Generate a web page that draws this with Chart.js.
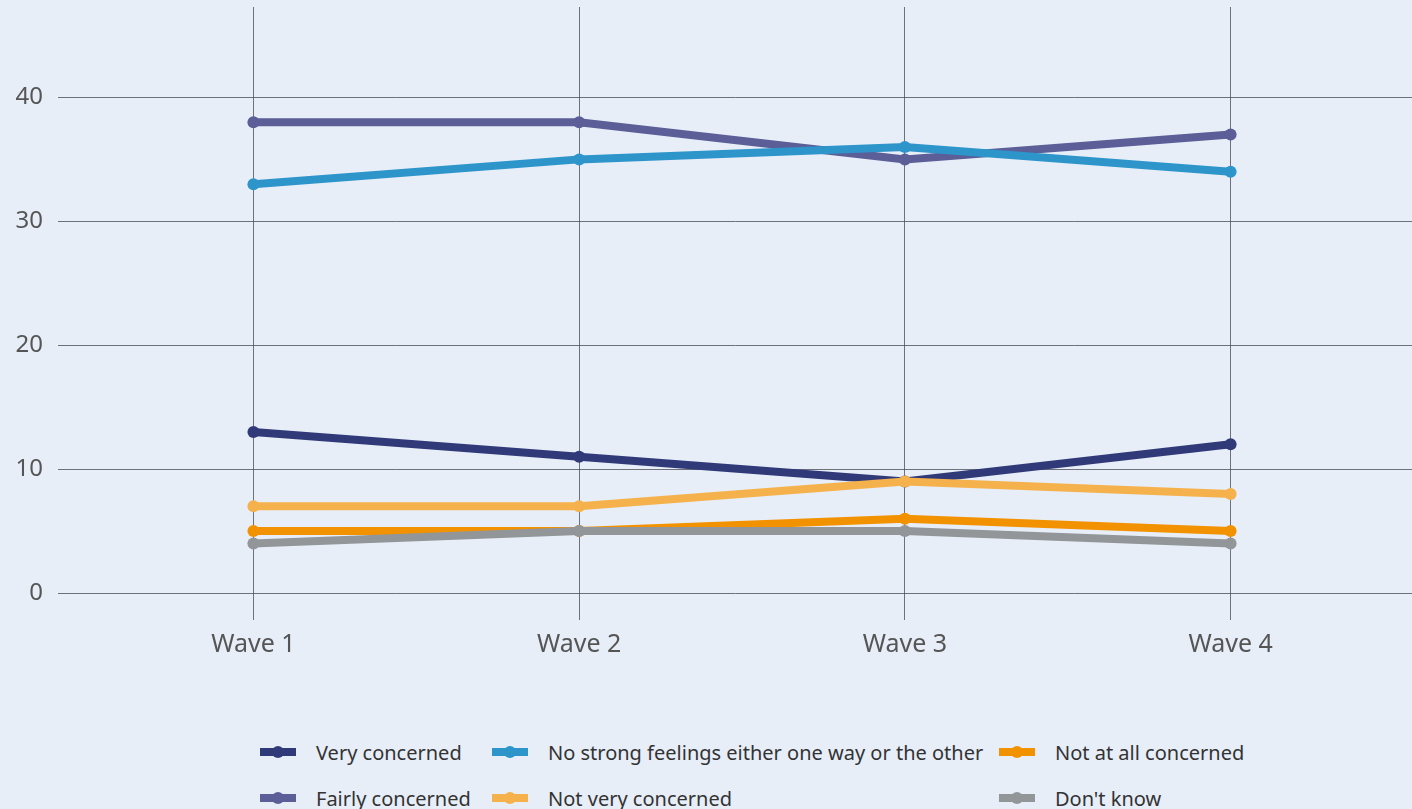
<!DOCTYPE html>
<html>
<head>
<meta charset="utf-8">
<script src="https://cdn.jsdelivr.net/npm/chart.js@4/dist/chart.umd.min.js"></script>
<style>
  html, body { margin: 0; padding: 0; background: #e7eef8; overflow: hidden; }
  body { width: 1412px; height: 809px; position: relative; font-family: "Noto Sans", sans-serif; }
  #chart { position: absolute; left: 0; top: 0; }
  #legend {
    position: absolute; left: 260px; top: 729px;
    display: grid; grid-template-columns: 232px 507px 300px; grid-auto-rows: 46px;
    color: #333; font-size: 20px;
  }
  .item { display: flex; align-items: center; height: 46px; }
  .swatch { position: relative; width: 36px; height: 8px; margin-right: 20px; }
  .swatch span { position: absolute; left: 12px; top: -2px; width: 12px; height: 12px; border-radius: 50%; }
</style>
</head>
<body>
<!-- a few px wider than the page: the line overflow padding on the right falls outside the view -->
<canvas id="chart" width="1419" height="700"></canvas>
<div id="legend"></div>
<script>
// Data
const waves = ["Wave 1", "Wave 2", "Wave 3", "Wave 4"];
const veryConcerned = [13, 11, 9, 12];
const fairlyConcerned = [38, 38, 35, 37];
const noStrongFeelings = [33, 35, 36, 34];
const notVeryConcerned = [7, 7, 9, 8];
const notAtAllConcerned = [5, 5, 6, 5];
const dontKnow = [4, 5, 5, 4];
const yTicks = [0, 10, 20, 30, 40];

const series = [
  { label: "Very concerned", data: veryConcerned, color: "#313a79" },
  { label: "Fairly concerned", data: fairlyConcerned, color: "#5b5e97" },
  { label: "No strong feelings either one way or the other", data: noStrongFeelings, color: "#2e95cb" },
  { label: "Not very concerned", data: notVeryConcerned, color: "#f5b24c" },
  { label: "Not at all concerned", data: notAtAllConcerned, color: "#f39200" },
  { label: "Don't know", data: dontKnow, color: "#929699" },
];
// legend reads column by column, 2 rows
const legendOrder = [0, 2, 4, 1, 3, 5];

const gridColor = "rgba(70,70,80,0.75)";
const tickColor = "#555";

const datasets = series.map((s, i) => ({
  label: s.label,
  data: s.data.map((v, k) => ({ x: k, y: v })),
  borderColor: s.color,
  backgroundColor: s.color,
  borderWidth: 8,
  pointRadius: 6,
  pointHoverRadius: 6,
  pointBorderWidth: 0,
  tension: 0,
  order: series.length - i,
}));

const ctx = document.getElementById("chart").getContext("2d");
const chart = new Chart(ctx, {
  type: "line",
  data: { datasets: datasets },
  options: {
    responsive: false,
    animation: false,
    layout: { padding: { top: 7, left: 0, right: 0, bottom: 0 } },
    plugins: { legend: { display: false }, tooltip: { enabled: false } },
    scales: {
      x: {
        type: "linear",
        min: -0.6,
        max: 3.56,
        border: { display: false },
        grid: { color: gridColor, lineWidth: 1, tickLength: 27 },
        afterFit: (s) => { s.height = 107; s.paddingLeft = 0; s.paddingRight = 0; },
        ticks: {
          stepSize: 1,
          includeBounds: false,
          color: tickColor,
          padding: 10,
          font: { family: "Noto Sans", size: 25 },
          callback: (v) => (Number.isInteger(v) && waves[v] !== undefined ? waves[v] : ""),
        },
      },
      y: {
        min: 0,
        max: 47.3,
        border: { display: false },
        grid: { color: gridColor, lineWidth: 1, drawTicks: false },
        afterFit: (s) => { s.width = 58; s.paddingTop = 0; s.paddingBottom = 0; },
        afterBuildTicks: (s) => { s.ticks = yTicks.map((v) => ({ value: v })); },
        ticks: {
          color: tickColor,
          padding: 15,
          font: { family: "Noto Sans", size: 24 },
        },
      },
    },
  },
});

// HTML legend
const legendEl = document.getElementById("legend");
legendOrder.forEach((i) => {
  const s = series[i];
  const item = document.createElement("div");
  item.className = "item";
  item.innerHTML =
    '<div class="swatch" style="background:' + s.color + '"><span style="background:' + s.color + '"></span></div>' +
    "<div>" + s.label + "</div>";
  legendEl.appendChild(item);
});
</script>
</body>
</html>
